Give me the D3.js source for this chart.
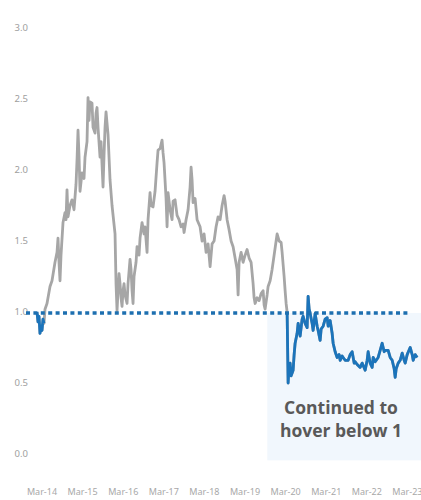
<!DOCTYPE html>
<html>
<head>
<meta charset="utf-8">
<script src="https://cdn.jsdelivr.net/npm/d3@7"></script>
<style>
	body { margin: 0; background: #fff; }
	svg { display: block; }
</style>
</head>
<body>
<svg id="chart" width="421" height="500"></svg>
<script>
"use strict";

// Series
const dates = [
	"2014-01-15","2014-01-24","2014-02-02","2014-02-11","2014-02-20","2014-03-01","2014-03-10","2014-03-19","2014-03-28","2014-04-15",
	"2014-05-12","2014-05-30","2014-06-26","2014-07-14","2014-07-23","2014-08-01","2014-08-10","2014-08-19","2014-09-06","2014-09-24",
	"2014-10-03","2014-10-12","2014-10-21","2014-11-08","2014-11-26","2014-12-14","2015-01-01","2015-01-10","2015-01-19","2015-01-28",
	"2015-02-06","2015-02-24","2015-03-14","2015-03-23","2015-04-10","2015-04-19","2015-04-28","2015-05-07","2015-05-25","2015-06-03",
	"2015-06-21","2015-06-30","2015-07-09","2015-07-18","2015-08-05","2015-08-14","2015-09-01","2015-09-10","2015-09-19","2015-09-28",
	"2015-10-16","2015-11-03","2015-11-21","2015-12-18","2015-12-27","2016-01-05","2016-01-14","2016-01-23","2016-02-01","2016-02-10",
	"2016-02-19","2016-02-28","2016-03-08","2016-03-17","2016-04-04","2016-04-13","2016-05-01","2016-05-10","2016-05-19","2016-05-28",
	"2016-06-06","2016-06-24","2016-07-03","2016-07-21","2016-07-30","2016-08-17","2016-09-04","2016-09-13","2016-10-01","2016-10-10",
	"2016-10-28","2016-11-06","2016-11-24","2016-12-12","2016-12-30","2017-01-08","2017-01-26","2017-02-13","2017-02-22","2017-03-03",
	"2017-03-21","2017-03-30","2017-04-08","2017-04-26","2017-05-14","2017-05-23","2017-06-10","2017-06-28","2017-07-16","2017-08-03",
	"2017-08-21","2017-08-30","2017-09-17","2017-10-05","2017-10-23","2017-11-01","2017-11-10","2017-11-19","2017-12-07","2017-12-25",
	"2018-01-21","2018-02-08","2018-02-26","2018-03-16","2018-04-03","2018-04-21","2018-05-09","2018-05-27","2018-06-14","2018-07-02",
	"2018-07-20","2018-08-07","2018-08-25","2018-09-03","2018-09-21","2018-10-09","2018-10-27","2018-11-14","2018-12-02","2018-12-20",
	"2018-12-29","2019-01-07","2019-01-25","2019-02-12","2019-03-02","2019-03-20","2019-04-07","2019-04-25","2019-05-13","2019-05-22",
	"2019-05-31","2019-06-18","2019-07-06","2019-07-24","2019-08-11","2019-08-20","2019-08-29","2019-09-16","2019-09-25","2019-10-13",
	"2019-10-31","2019-11-18","2019-12-06","2019-12-15","2020-01-02","2020-01-20","2020-01-29","2020-02-16","2020-02-25","2020-03-05",
	"2020-03-14","2020-03-23","2020-04-01","2020-04-10","2020-04-19","2020-05-07","2020-05-16","2020-05-25","2020-06-12","2020-06-21",
	"2020-06-30","2020-07-09","2020-07-27","2020-08-05","2020-08-23","2020-09-10","2020-09-19","2020-09-28","2020-10-07","2020-10-25",
	"2020-11-03","2020-11-21","2020-12-09","2020-12-18","2021-01-05","2021-01-14","2021-02-01","2021-02-19","2021-03-09","2021-03-18",
	"2021-04-05","2021-04-23","2021-05-02","2021-05-20","2021-06-07","2021-06-25","2021-07-04","2021-07-22","2021-07-31","2021-08-18",
	"2021-09-14","2021-10-02","2021-10-20","2021-11-07","2021-11-16","2021-12-04","2021-12-31","2022-01-18","2022-02-14","2022-03-04",
	"2022-03-13","2022-03-31","2022-04-18","2022-04-27","2022-05-15","2022-06-11","2022-06-29","2022-07-17","2022-08-04","2022-08-13",
	"2022-09-09","2022-09-27","2022-10-15","2022-11-02","2022-11-11","2022-11-20","2022-12-08","2022-12-26","2023-01-13","2023-01-31",
	"2023-02-09","2023-02-27","2023-03-26","2023-04-13","2023-04-22","2023-05-10","2023-05-28"
];

const values = [
	1.00,0.93,0.97,0.85,0.90,0.87,0.95,0.92,1.02,1.06,
	1.18,1.22,1.35,1.42,1.52,1.35,1.22,1.40,1.63,1.70,
	1.65,1.86,1.67,1.75,1.79,1.72,1.90,2.07,2.28,2.10,
	1.85,1.98,1.94,2.09,2.20,2.51,2.35,2.48,2.47,2.30,
	2.26,2.40,2.44,2.30,2.09,2.20,1.88,2.10,2.30,2.41,
	2.25,1.93,1.75,1.55,1.20,1.01,1.15,1.27,1.20,1.10,
	1.04,1.15,1.20,1.12,1.06,1.20,1.37,1.30,1.15,1.06,
	1.25,1.35,1.46,1.40,1.52,1.63,1.55,1.60,1.42,1.65,
	1.84,1.75,1.74,1.85,2.05,2.14,2.15,2.21,2.12,2.05,
	1.80,1.60,1.84,1.72,1.65,1.78,1.79,1.68,1.65,1.60,
	1.62,1.56,1.65,1.72,1.88,2.02,1.93,1.77,1.80,1.65,
	1.60,1.50,1.55,1.42,1.48,1.32,1.48,1.50,1.60,1.67,
	1.65,1.75,1.82,1.78,1.65,1.58,1.50,1.46,1.38,1.30,
	1.12,1.35,1.42,1.35,1.40,1.44,1.38,1.35,1.20,1.10,
	1.06,1.10,1.08,1.13,1.15,1.05,1.02,1.12,1.18,1.22,
	1.30,1.40,1.50,1.55,1.50,1.49,1.42,1.25,1.15,1.06,
	1.00,0.50,0.62,0.64,0.55,0.59,0.70,0.78,0.85,0.92,
	0.88,0.83,0.95,0.97,0.92,0.89,1.11,1.02,0.99,0.92,
	0.87,0.99,0.90,0.87,0.80,0.88,0.90,0.95,0.96,0.90,
	0.94,0.85,0.78,0.72,0.68,0.70,0.66,0.69,0.68,0.66,
	0.66,0.70,0.72,0.64,0.65,0.63,0.61,0.64,0.59,0.66,
	0.72,0.64,0.61,0.68,0.65,0.68,0.73,0.78,0.72,0.73,
	0.73,0.68,0.66,0.60,0.54,0.60,0.64,0.66,0.71,0.66,
	0.64,0.70,0.75,0.70,0.66,0.70,0.68
];

// periods drawn in blue
const blueSpans = [["2014-01-01", "2014-03-19"], ["2020-03-14", "2023-12-31"]];

// axis ticks
const yTicks = [0, 0.5, 1.0, 1.5, 2.0, 2.5, 3.0];
const xTicks = ["2014-03-01","2015-03-01","2016-03-01","2017-03-01","2018-03-01",
	"2019-03-01","2020-03-01","2021-03-01","2022-03-01","2023-03-01"];

const threshold = 1.0;
const shadeFrom = "2019-09-18";
const noteLines = ["Continued to", "hover below 1"];

const parse = d3.timeParse("%Y-%m-%d");
const points = dates.map((d, i) => ({date: parse(d), value: values[i]}));

const svg = d3.select("#chart");
const width = 421;

const x = d3.scaleTime()
	.domain([parse("2014-03-01"), parse("2023-03-01")])
	.range([42, 407.4]);
const y = d3.scaleLinear()
	.domain([0, 3])
	.range([454, 28]);

// shaded box (behind everything)
svg.append("rect")
	.attr("x", x(parse(shadeFrom)))
	.attr("y", y(threshold) + 1)
	.attr("width", width - x(parse(shadeFrom)))
	.attr("height", y(-0.045) - y(threshold) - 1)
	.attr("fill", "#f1f7fd");

// y labels
svg.append("g")
	.selectAll("text")
	.data(yTicks)
	.enter()
	.append("text")
	.attr("x", 28)
	.attr("y", d => y(d))
	.attr("dy", "0.35em")
	.attr("text-anchor", "end")
	.style("font", "9.5px 'Noto Sans', sans-serif")
	.style("fill", "#9e9e9e")
	.text(d3.format(".1f"));

// x labels
svg.append("g")
	.selectAll("text")
	.data(xTicks.map(parse))
	.enter()
	.append("text")
	.attr("x", d => x(d))
	.attr("y", 492)
	.attr("dy", "0.35em")
	.attr("text-anchor", "middle")
	.style("font", "9px 'Noto Sans', sans-serif")
	.style("fill", "#a8a8a8")
	.text(d3.timeFormat("%b-%y"));

const line = d3.line()
	.x(d => x(d.date))
	.y(d => y(d.value));

// grey full series, blue spans on top
svg.append("path")
	.datum(points)
	.attr("d", line)
	.attr("fill", "none")
	.attr("stroke", "#a6a6a6")
	.attr("stroke-width", 2.8)
	.attr("stroke-linejoin", "round");

blueSpans.forEach(([a, b]) => {
	const from = parse(a), to = parse(b);
	svg.append("path")
		.datum(points.filter(p => p.date >= from && p.date <= to))
		.attr("d", line)
		.attr("fill", "none")
		.attr("stroke", "#1b74bb")
		.attr("stroke-width", 2.8)
		.attr("stroke-linejoin", "round");
});

// dotted 1.0 line
svg.append("line")
	.attr("x1", 26)
	.attr("x2", 408)
	.attr("y1", y(threshold) + 1)
	.attr("y2", y(threshold) + 1)
	.attr("stroke", "#1d6fb0")
	.attr("stroke-width", 3.5)
	.attr("stroke-dasharray", "4,3.4");

// annotation
svg.append("g")
	.selectAll("text")
	.data(noteLines)
	.enter()
	.append("text")
	.attr("x", 341)
	.attr("y", (d, i) => 408 + i * 23)
	.attr("dy", "0.35em")
	.attr("text-anchor", "middle")
	.style("font", "bold 17.5px 'Open Sans', sans-serif")
	.style("fill", "#595959")
	.text(d => d);
</script>
</body>
</html>
